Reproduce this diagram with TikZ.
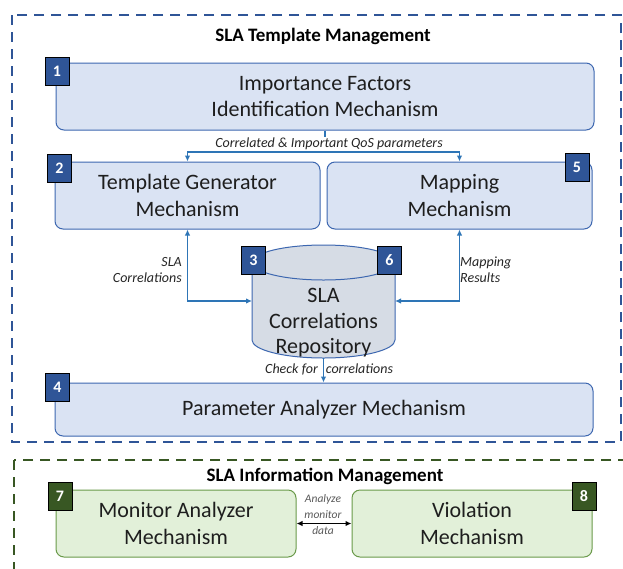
\documentclass[tikz,border=0pt]{standalone}
\usepackage{fontspec}
\setmainfont{Carlito}
\usetikzlibrary{arrows.meta}
\definecolor{bfill}{HTML}{DAE3F3}
\definecolor{bdraw}{HTML}{3D67B0}
\definecolor{bbadge}{HTML}{2F5597}
\definecolor{barrow}{HTML}{2E75B6}
\definecolor{bdash}{HTML}{2F5597}
\definecolor{cylfill}{HTML}{D6DCE5}
\definecolor{gfill}{HTML}{E2F0D9}
\definecolor{gdraw}{HTML}{6A9A4A}
\definecolor{gbadge}{HTML}{385723}
\definecolor{gdash}{HTML}{385723}
\definecolor{txt}{HTML}{1E1E1E}
\definecolor{lbl}{HTML}{262626}
\definecolor{glbl}{HTML}{595959}
\begin{document}
\begin{tikzpicture}[x=1pt,y=-1pt,
  mbox/.style={draw=bdraw, fill=bfill, line width=1pt, rounded corners=8pt,
    align=center, text=txt, font=\fontsize{22}{26.5}\selectfont, inner sep=0pt},
  gbox/.style={mbox, draw=gdraw, fill=gfill},
  badge/.style={draw=black, line width=0.8pt, fill=bbadge, text=white,
    font=\bfseries\fontsize{16}{18}\selectfont, minimum width=24pt, minimum height=28pt, inner sep=0pt},
  gbadgestyle/.style={badge, fill=gbadge},
  flow/.style={draw=barrow, line width=1.2pt},
  tip/.style={-{Latex[length=6pt,width=5.5pt]}},
  both/.style={{Latex[length=6pt,width=5.5pt]}-{Latex[length=6pt,width=5.5pt]}},
  lab/.style={font=\itshape\fontsize{14}{16}\selectfont, text=lbl, inner sep=0pt},
  ttl/.style={font=\bfseries\fontsize{19}{22}\selectfont, text=black, inner sep=0pt},
  dashframe/.style={line width=2.1pt, dash pattern=on 10pt off 7pt}
]
\useasboundingbox (0,0) rectangle (623,568);
\clip (0,0) rectangle (623,568);
\fill[white] (0,0) rectangle (623,568);

% frames
\draw[dashframe, bdash] (12,15) rectangle (621,442);
\draw[dashframe, gdash] (14,460) rectangle (640,600);

\node[ttl] (t1) at (323,36) {SLA Template Management};
\node[ttl] (t2) at (325,476) {SLA Information Management};

% boxes
\node[mbox, minimum width=538pt, minimum height=67pt] (b1) at (325,96.5) {Importance Factors\\Identification Mechanism};
\node[mbox, minimum width=265pt, minimum height=67pt] (b2) at (187.5,195.5) {Template Generator\\Mechanism};
\node[mbox, minimum width=265pt, minimum height=67pt] (b5) at (459.5,195.5) {Mapping\\Mechanism};
\node[mbox, minimum width=538pt, minimum height=53pt] (b4) at (324,409.5) {Parameter Analyzer Mechanism};
\node[gbox, minimum width=240pt, minimum height=67pt] (b7) at (176,523.5) {Monitor Analyzer\\Mechanism};
\node[gbox, minimum width=240pt, minimum height=67pt] (b8) at (472,523.5) {Violation\\Mechanism};

% cylinder
\filldraw[draw=bdraw, fill=cylfill, line width=1pt]
  (252,262.5) -- (252,340) arc[start angle=180, end angle=360, x radius=71.5pt, y radius=18pt] -- (395,262.5);
\filldraw[draw=bdraw, fill=cylfill, line width=1pt] (323.5,262.5) ellipse [x radius=71.5pt, y radius=17.5pt];
\node[align=center, text=txt, font=\fontsize{22}{25.5}\selectfont, inner sep=0pt] (cyl) at (323.5,323) {SLA\\Correlations\\Repository};
\coordinate (cylW) at (252,301);
\coordinate (cylE) at (395,301);
\coordinate (cylS) at (323.5,358);

% badges
\node[badge] (n1) at (57,71) {1};
\node[badge] (n2) at (59.5,168) {2};
\node[badge] (n5) at (577,167) {5};
\node[badge] (n3) at (253.5,260) {3};
\node[badge] (n6) at (389.5,260) {6};
\node[badge] (n4) at (57.5,387) {4};
\node[gbadgestyle] (n7) at (60,496) {7};
\node[gbadgestyle] (n8) at (584,496) {8};

% connectors
\coordinate (j) at (b1.south |- 0,152);
\draw[flow] (b1.south) -- (j);
\draw[flow, tip] (j) -| (b2.north);
\draw[flow, tip] (j) -| (b5.north);
\node[lab, fill=white, inner sep=1pt] (l1) at (329,144) {Correlated \& Important QoS parameters};

\draw[flow, both] (b2.south) |- (cylW);
\draw[flow, both] (b5.south) |- (cylE);
\node[lab, align=right, anchor=east] (l2) at (182,270) {SLA\\Correlations};
\node[lab, align=left, anchor=west] (l3) at (460,270) {Mapping\\Results};

\node[lab, anchor=west] (l4) at (265,369) {Check for\hspace{8pt}correlations};
\draw[flow, tip] (cylS) -- (cylS |- b4.north);

\draw[line width=1.4pt, black, both] (b7.east) -- (b8.west);
\node[align=center, font=\itshape\fontsize{11.5}{16}\selectfont, text=glbl, inner sep=0pt] (l5) at (323,515) {Analyze\\monitor\\data};
\end{tikzpicture}
\end{document}
